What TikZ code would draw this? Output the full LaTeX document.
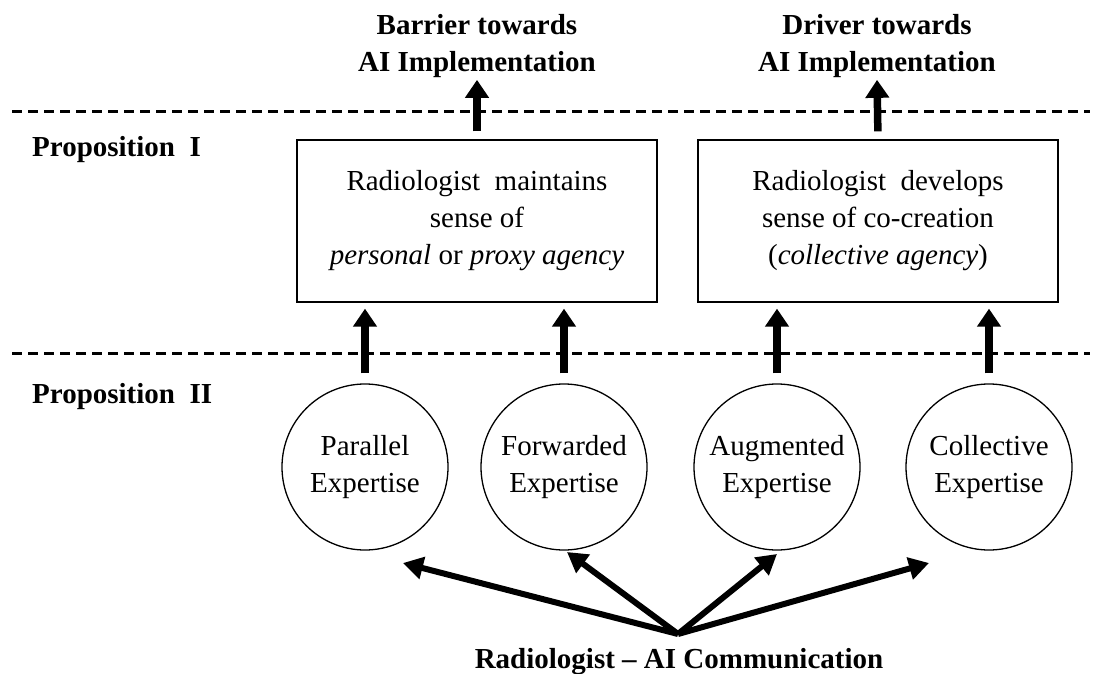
\documentclass[tikz,border=0pt]{standalone}
\usepackage{fontspec}
\setmainfont{Liberation Serif}
\usetikzlibrary{arrows.meta}

\begin{document}
\begin{tikzpicture}[x=1pt,y=-1pt,
    every node/.style={font=\fontsize{29}{37}\selectfont, inner sep=0pt},
    heading/.style={font=\fontsize{29}{37}\selectfont\bfseries, align=center},
    propbox/.style={draw, line width=1.3pt, minimum width=360pt, minimum height=162pt, align=center},
    expcircle/.style={draw, circle, line width=1.3pt, minimum size=166pt, align=center},
    divider/.style={line width=3pt, dash pattern=on 10pt off 6pt},
    uparrow/.style={line width=7.5pt, -{Triangle[length=18pt,width=23pt]}},
    fanarrow/.style={line width=6pt, -{Triangle[length=20pt,width=22pt]}}]
\useasboundingbox (0,0) rectangle (1094,674);

% outcomes
\node[heading] (barrier) at (477,46) {Barrier towards\\AI Implementation};
\node[heading] (driver) at (877,46) {Driver towards\\AI Implementation};

\draw[divider] (12,112) -- (1090,112);
\node[heading, anchor=base west] (propone) at (32,157) {Proposition\enspace I};

% agency boxes
\node[propbox] (maintain) at (477,221) {Radiologist\enspace maintains\\sense of\\\textit{personal} or \textit{proxy agency}};
\node[propbox] (develop) at (878,221) {Radiologist\enspace develops\\sense of co-creation\\(\textit{collective agency})};

\draw[divider] (12,353) -- (1090,353);
\node[heading, anchor=base west] (proptwo) at (32,403) {Proposition\enspace II};

% expertise
\node[expcircle] (parallel) at (365,467) {Parallel\\Expertise};
\node[expcircle] (forwarded) at (564,467) {Forwarded\\Expertise};
\node[expcircle] (augmented) at (777,467) {Augmented\\Expertise};
\node[expcircle] (collective) at (989,467) {Collective\\Expertise};

\node[heading, anchor=base] (comm) at (679,668) {Radiologist -- AI Communication};

% arrows
\draw[uparrow, shorten <=8pt, shorten >=2pt] (maintain.north) -- (barrier.south);
\draw[uparrow, shorten <=8pt, shorten >=2pt] (develop.north) -- (driver.south);
\foreach \c/\b in {parallel/maintain, forwarded/maintain, augmented/develop, collective/develop}
    \draw[uparrow, shorten <=10pt, shorten >=6pt] (\c.north) -- (\c.north |- \b.south);

\coordinate (hub) at (678,634);
\coordinate (tipa) at (403,563);
\coordinate (tipb) at (567,552);
\coordinate (tipc) at (777,554);
\coordinate (tipd) at (929,563);
\foreach \t in {tipa,tipb,tipc,tipd}
    \draw[fanarrow] (hub) -- (\t);
\end{tikzpicture}
\end{document}
